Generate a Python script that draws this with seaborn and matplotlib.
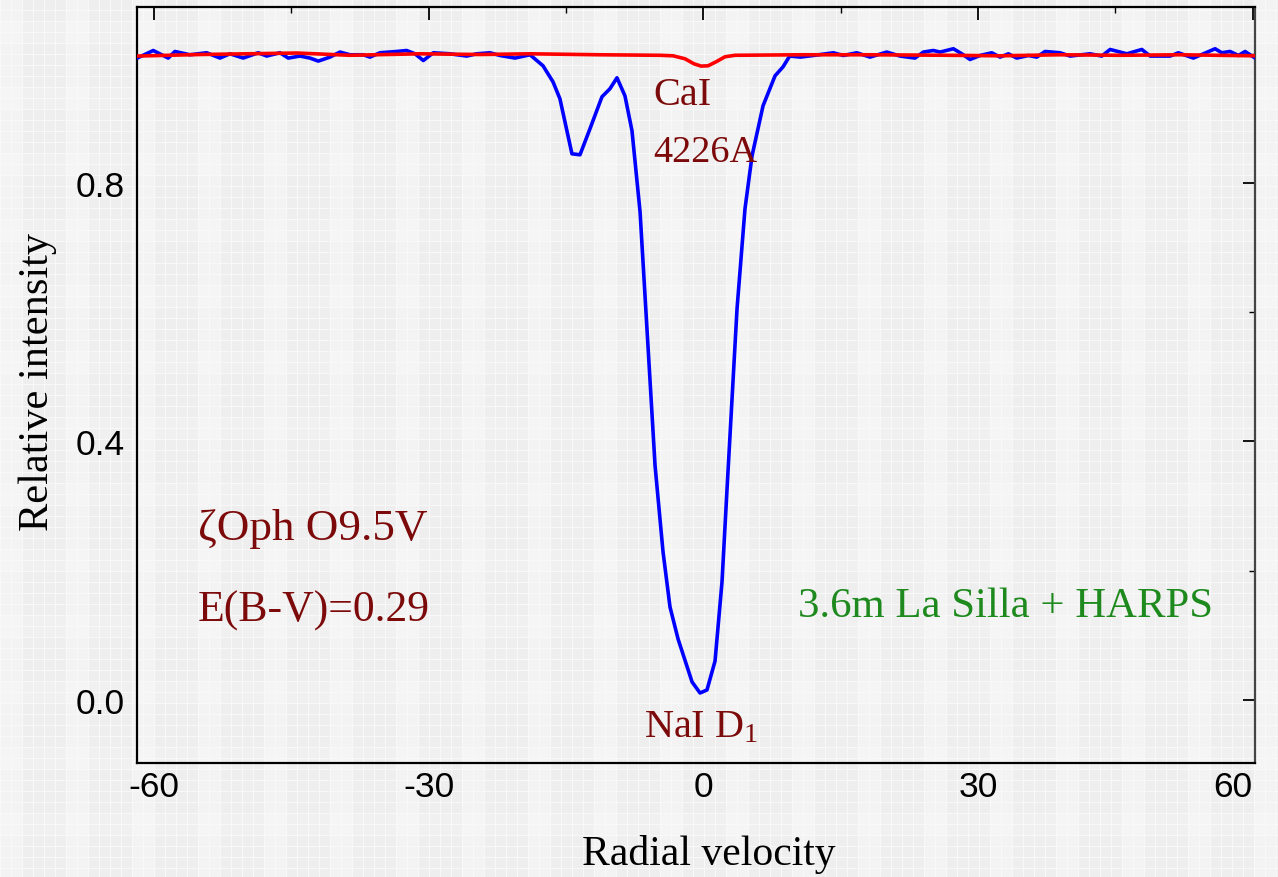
import numpy as np
import pandas as pd
import matplotlib
matplotlib.use("Agg")
import matplotlib.pyplot as plt
from matplotlib.ticker import MultipleLocator, FixedLocator
import seaborn as sns

# ---- data ----
na_velocity = [-61.82, -60.08, -58.44, -57.71, -56.07, -54.24, -52.79, -51.70, -50.25, -48.61,
               -47.69, -46.24, -45.33, -44.05, -42.96, -42.05, -40.78, -39.68, -38.59, -37.14,
               -36.41, -35.31, -33.49, -32.40, -31.49, -30.58, -29.49, -27.67, -25.84, -24.75,
               -23.30, -22.21, -20.57, -18.93, -17.51, -16.42, -15.66, -14.35, -13.47, -12.38,
               -11.07, -10.20, -9.43, -8.56, -7.79, -6.91, -5.27, -4.40, -3.64, -2.76,
               -1.23, -0.36, 0.40, 1.28, 2.04, 2.59, 3.68, 4.55, 5.32, 6.52,
               7.83, 8.71, 9.43, 10.60, 12.02, 14.20, 15.29, 16.76, 18.21, 20.03,
               21.49, 23.12, 24.03, 25.12, 25.86, 27.31, 28.23, 29.13, 30.22, 31.50,
               32.41, 33.32, 34.23, 35.50, 36.42, 37.32, 38.96, 40.06, 42.24, 43.52,
               44.43, 46.25, 47.89, 48.80, 50.98, 51.88, 53.52, 54.62, 55.89, 56.62,
               57.53, 58.44, 59.17, 60.26]
na_intensity = [0.9930, 1.0047, 0.9930, 1.0032, 0.9981, 1.0012, 0.9930, 0.9996, 0.9930, 1.0012,
                0.9961, 1.0012, 0.9930, 0.9961, 0.9930, 0.9883, 0.9945, 1.0023, 0.9981, 0.9981,
                0.9945, 1.0012, 1.0032, 1.0047, 0.9996, 0.9892, 1.0012, 0.9996, 0.9961, 0.9996,
                1.0012, 0.9970, 0.9930, 0.9981, 0.9811, 0.9563, 0.9300, 0.8449, 0.8434, 0.8836,
                0.9331, 0.9455, 0.9625, 0.9346, 0.8805, 0.7551, 0.3621, 0.2290, 0.1439, 0.0944,
                0.0279, 0.0108, 0.0155, 0.0603, 0.1826, 0.3265, 0.6050, 0.7598, 0.8418, 0.9191,
                0.9655, 0.9795, 0.9961, 0.9945, 0.9970, 1.0012, 0.9970, 1.0012, 0.9945, 1.0023,
                0.9961, 0.9930, 1.0023, 1.0047, 1.0023, 1.0074, 0.9996, 0.9908, 0.9970, 1.0012,
                0.9945, 0.9996, 0.9930, 0.9970, 0.9945, 1.0032, 1.0012, 0.9961, 0.9996, 0.9961,
                1.0063, 0.9996, 1.0063, 0.9961, 0.9961, 1.0012, 0.9930, 0.9996, 1.0074, 1.0012,
                1.0032, 0.9970, 1.0032, 0.9930]

ca_velocity = [-61.86, -54.98, -44.38, -38.59, -30.94, -24.39, -18.93, -11.28, -4.73, -3.31,
               -2.00, -1.02, -0.25, 0.51, 1.39, 2.37, 3.46, 10.56, 18.21, 26.95,
               32.41, 38.96, 45.51, 52.07, 60.26]
ca_intensity = [0.9961, 0.9985, 1.0008, 0.9973, 0.9996, 0.9985, 0.9996, 0.9981, 0.9973, 0.9965,
                0.9919, 0.9841, 0.9806, 0.9810, 0.9872, 0.9950, 0.9973, 0.9981, 0.9981, 0.9973,
                0.9965, 0.9981, 0.9973, 0.9981, 0.9965]

x_ticks = [-60, -30, 0, 30, 60]
y_ticks = [0.0, 0.4, 0.8]

# ---- style ----
sns.set_theme(style="white")
plt.rcParams["font.family"] = ["Liberation Sans", "DejaVu Sans"]
plt.rcParams["axes.unicode_minus"] = False
plt.rcParams["mathtext.fontset"] = "custom"
plt.rcParams["mathtext.rm"] = "Liberation Serif"
plt.rcParams["mathtext.it"] = "Liberation Serif"
plt.rcParams["text.color"] = "black"
plt.rcParams["axes.labelcolor"] = "black"

W, H = 1278, 878
fig = plt.figure(figsize=(W / 100, H / 100), dpi=100)

# textured light-grey background
yy, xx = np.mgrid[0:H, 0:W]
tex = np.full((H, W), 0.935)
tex += 0.018 * (((xx // 22) % 3) == 0)
tex += 0.010 * (((yy // 22) % 3) == 1)
tex[(xx % 11) == 0] = 0.975
tex[(yy % 11) == 0] = 0.975
tex = np.clip(tex, 0, 1)
fig.figimage(np.dstack([tex, tex, tex]), xo=0, yo=0, origin="upper", zorder=-10)
fig.patch.set_alpha(0)

ax = fig.add_axes([137 / W, (H - 764) / H, (1255 - 137) / W, (764 - 8) / H])
ax.patch.set_alpha(0)

df_na = pd.DataFrame({"v": na_velocity, "I": na_intensity})
df_ca = pd.DataFrame({"v": ca_velocity, "I": ca_intensity})
sns.lineplot(data=df_na, x="v", y="I", ax=ax, color="#0000ff", lw=2.6,
             sort=False, estimator=None, zorder=3)
sns.lineplot(data=df_ca, x="v", y="I", ax=ax, color="#ff0000", lw=2.6,
             sort=False, estimator=None, zorder=4)

ax.set_xlim(-61.85, 60.25)
ax.set_ylim(-0.0975, 1.072)
ax.xaxis.set_major_locator(FixedLocator(x_ticks))
ax.xaxis.set_minor_locator(MultipleLocator(15))
ax.yaxis.set_major_locator(FixedLocator(y_ticks))
ax.yaxis.set_minor_locator(MultipleLocator(0.2))
ax.set_xticklabels([f"{t:d}" for t in x_ticks])
ax.set_yticklabels([f"{t:.1f}" for t in y_ticks])
ax.tick_params(which="major", direction="in", length=9, width=1.3, colors="black",
               labelcolor="black", labelsize=25.5, top=True, right=True)
ax.tick_params(axis="x", which="major", pad=5)
ax.tick_params(axis="y", which="major", pad=9)
ax.tick_params(which="minor", direction="in", length=4, width=1.0, colors="black",
               top=True, right=True)
for s in ax.spines.values():
    s.set_color("black")
    s.set_linewidth(1.6)
ax.spines["right"].set_color("#444444")
# last x tick label sits slightly inside, as in the reference
ax.get_xticklabels()[-1].set_horizontalalignment("right")
ax.get_xticklabels()[-1].set_x(60)

serif = ["Liberation Serif", "DejaVu Serif"]
ax.set_xlabel("Radial velocity", fontsize=30, family=serif, color="black")
ax.set_ylabel("Relative intensity", fontsize=30.5, family=serif, color="black")
ax.xaxis.set_label_coords(0.511, -0.094)
ax.yaxis.set_label_coords(-0.072, 0.505)

dark_red = "#7d0a0a"
ax.text(-5.5, 0.922, "CaI", fontsize=29, family=serif, color=dark_red, va="baseline", ha="left")
ax.text(-5.5, 0.833, "4226A", fontsize=27.5, family=serif, color=dark_red, va="baseline", ha="left")
ax.text(-0.2, -0.056, r"NaI D$_1$", fontsize=29, family=serif, color=dark_red,
        va="baseline", ha="center")
ax.text(-55.2, 0.249, "ζOph O9.5V", fontsize=32.5, family=serif, color=dark_red, va="baseline")
ax.text(-55.2, 0.1227, "E(B-V)=0.29", fontsize=31.5, family=serif, color=dark_red, va="baseline")
ax.text(10.3, 0.130, "3.6m La Silla + HARPS", fontsize=30.8, family=serif, color="#1e8a1e",
        va="baseline")

fig.savefig("out.png", dpi=100)
